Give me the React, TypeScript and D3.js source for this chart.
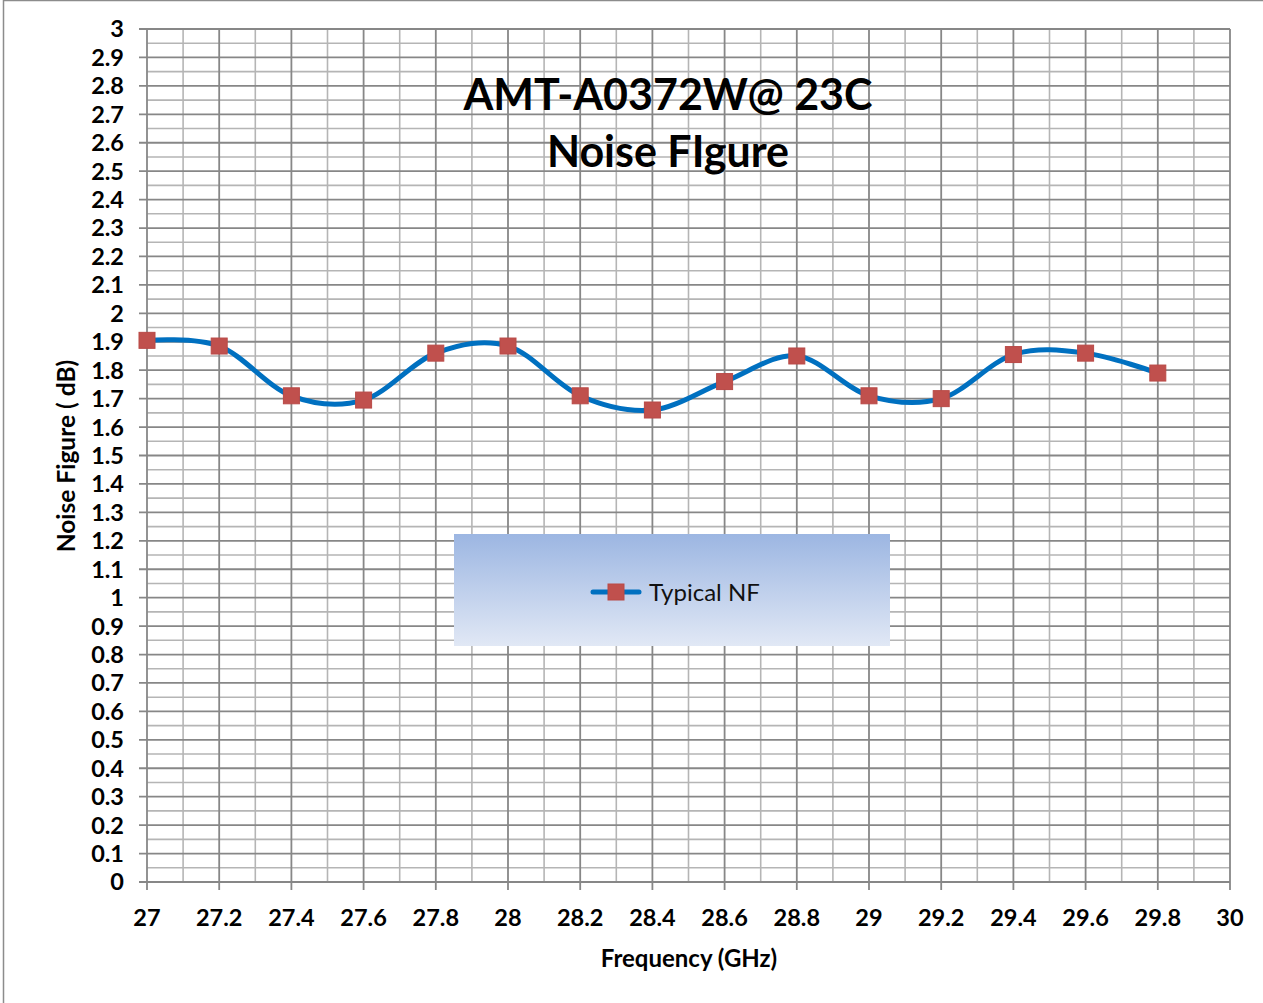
import { useEffect, useRef } from "react";
import * as d3 from "d3";

const frequencies = [27, 27.2, 27.4, 27.6, 27.8, 28, 28.2, 28.4, 28.6, 28.8, 29, 29.2, 29.4, 29.6, 29.8];
const typicalNF = [1.905, 1.885, 1.71, 1.695, 1.86, 1.885, 1.71, 1.66, 1.76, 1.85, 1.71, 1.7, 1.855, 1.86, 1.79];
const xTicks = [27, 27.2, 27.4, 27.6, 27.8, 28, 28.2, 28.4, 28.6, 28.8, 29, 29.2, 29.4, 29.6, 29.8, 30];
const titleLines = ["AMT-A0372W@ 23C", "Noise FIgure"];
const seriesName = "Typical NF";

export default function App() {
  const svgRef = useRef<SVGSVGElement | null>(null);
  const width = 1263;
  const height = 1003;
  const margin = { top: 29, right: 33, bottom: 121, left: 147 };
  const font = "Lato, 'Open Sans', sans-serif";

  useEffect(() => {
    if (!svgRef.current) return;
    const svg = d3.select(svgRef.current);
    svg.selectAll("*").remove();

    const x = d3.scaleLinear().domain([27, 30]).range([margin.left, width - margin.right]);
    const y = d3.scaleLinear().domain([0, 3]).range([height - margin.bottom, margin.top]);

    // outer chart border (only left/top visible in the shot)
    svg
      .append("rect")
      .attr("x", 3.5)
      .attr("y", 0.5)
      .attr("width", width + 10)
      .attr("height", height + 10)
      .attr("fill", "#fff")
      .attr("stroke", "#8c8c8c")
      .attr("stroke-width", 1.5);

    const grid = svg.append("g");
    // minor grid
    const minorX = d3.range(0, 31).map((i) => 27 + i * 0.1).filter((_, i) => i % 2 === 1);
    const minorY = d3.range(0, 61).map((i) => i * 0.05).filter((_, i) => i % 2 === 1);
    grid
      .selectAll("line.mx")
      .data(minorX)
      .join("line")
      .attr("x1", (d) => x(d))
      .attr("x2", (d) => x(d))
      .attr("y1", y(0))
      .attr("y2", y(3))
      .attr("stroke", "#b5b5b5")
      .attr("stroke-width", 1.6);
    grid
      .selectAll("line.my")
      .data(minorY)
      .join("line")
      .attr("x1", x(27))
      .attr("x2", x(30))
      .attr("y1", (d) => y(d))
      .attr("y2", (d) => y(d))
      .attr("stroke", "#b5b5b5")
      .attr("stroke-width", 1.6);
    // major grid
    const majorY = d3.range(0, 31).map((i) => i / 10);
    grid
      .selectAll("line.MX")
      .data(xTicks)
      .join("line")
      .attr("x1", (d) => x(d))
      .attr("x2", (d) => x(d))
      .attr("y1", y(0) + 8)
      .attr("y2", y(3))
      .attr("stroke", "#878787")
      .attr("stroke-width", 1.8);
    grid
      .selectAll("line.MY")
      .data(majorY)
      .join("line")
      .attr("x1", x(27) - 8)
      .attr("x2", x(30))
      .attr("y1", (d) => y(d))
      .attr("y2", (d) => y(d))
      .attr("stroke", "#878787")
      .attr("stroke-width", 1.8);

    // tick labels
    svg
      .append("g")
      .selectAll("text")
      .data(majorY)
      .join("text")
      .attr("x", x(27) - 23)
      .attr("y", (d) => y(d))
      .attr("dy", "0.36em")
      .attr("text-anchor", "end")
      .attr("font-family", font)
      .attr("font-weight", 700)
      .attr("font-size", 23.5)
      .text((d) => d3.format("~g")(d));
    svg
      .append("g")
      .selectAll("text")
      .data(xTicks)
      .join("text")
      .attr("x", (d) => x(d))
      .attr("y", 926)
      .attr("text-anchor", "middle")
      .attr("font-family", font)
      .attr("font-weight", 700)
      .attr("font-size", 23.5)
      .text((d) => d3.format("~g")(d));

    // axis titles
    svg
      .append("text")
      .attr("x", 689)
      .attr("y", 967)
      .attr("text-anchor", "middle")
      .attr("font-family", font)
      .attr("font-weight", 700)
      .attr("font-size", 24)
      .text("Frequency (GHz)");
    svg
      .append("text")
      .attr("transform", "translate(75,456) rotate(-90)")
      .attr("text-anchor", "middle")
      .attr("font-family", font)
      .attr("font-weight", 700)
      .attr("font-size", 24.5)
      .text("Noise Figure ( dB)");

    // chart title
    svg
      .append("g")
      .selectAll("text")
      .data(titleLines)
      .join("text")
      .attr("x", 668)
      .attr("y", (_, i) => 110 + i * 57)
      .attr("text-anchor", "middle")
      .attr("font-family", font)
      .attr("font-weight", 700)
      .attr("font-size", 43)
      .text((d) => d);

    // series
    const pts = frequencies.map((f, i) => [f, typicalNF[i]] as [number, number]);
    const line = d3
      .line<[number, number]>()
      .x((d) => x(d[0]))
      .y((d) => y(d[1]))
      .curve(d3.curveCatmullRom.alpha(0));
    svg
      .append("path")
      .datum(pts)
      .attr("d", line)
      .attr("fill", "none")
      .attr("stroke", "#0070c0")
      .attr("stroke-width", 5)
      .attr("stroke-linecap", "round");
    const ms = 16;
    svg
      .append("g")
      .selectAll("rect")
      .data(pts)
      .join("rect")
      .attr("x", (d) => x(d[0]) - ms / 2)
      .attr("y", (d) => y(d[1]) - ms / 2)
      .attr("width", ms)
      .attr("height", ms)
      .attr("fill", "#c0504d")
      .attr("stroke", "#b94a47")
      .attr("stroke-width", 1);

    // legend
    const defs = svg.append("defs");
    const grad = defs
      .append("linearGradient")
      .attr("id", "legendGrad")
      .attr("x1", 0)
      .attr("y1", 0)
      .attr("x2", 0)
      .attr("y2", 1);
    grad.append("stop").attr("offset", "0%").attr("stop-color", "#9cb6e2");
    grad.append("stop").attr("offset", "100%").attr("stop-color", "#e1e8f5");
    const lg = svg.append("g").attr("transform", "translate(454,534)");
    lg.append("rect").attr("width", 436).attr("height", 112).attr("fill", "url(#legendGrad)");
    lg.append("line")
      .attr("x1", 139)
      .attr("x2", 185)
      .attr("y1", 58)
      .attr("y2", 58)
      .attr("stroke", "#0070c0")
      .attr("stroke-width", 5)
      .attr("stroke-linecap", "round");
    lg.append("rect")
      .attr("x", 154)
      .attr("y", 50)
      .attr("width", ms)
      .attr("height", ms)
      .attr("fill", "#c0504d")
      .attr("stroke", "#b94a47");
    lg.append("text")
      .attr("x", 195)
      .attr("y", 58)
      .attr("dy", "0.36em")
      .attr("font-family", font)
      .attr("font-size", 24)
      .attr("fill", "#111")
      .text(seriesName);
  }, []);

  return (
    <div style={{ position: "absolute", left: 0, top: 0 }}>
      <svg ref={svgRef} width={width} height={height} style={{ display: "block" }} />
    </div>
  );
}
